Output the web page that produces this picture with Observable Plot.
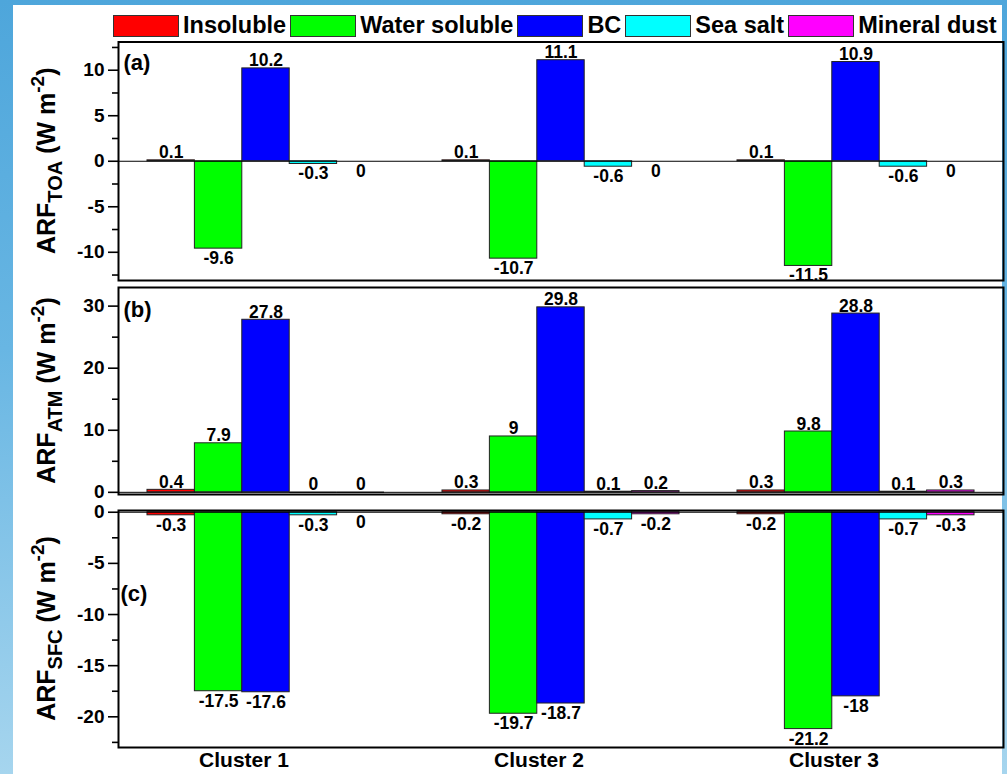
<!DOCTYPE html>
<html><head><meta charset="utf-8">
<script src="https://cdn.jsdelivr.net/npm/d3@7"></script>
<script src="https://cdn.jsdelivr.net/npm/@observablehq/plot@0.6"></script>
<style>
body{margin:0;width:1007px;height:774px;overflow:hidden;position:relative;
background:linear-gradient(180deg,#4ea6db 0%,#68b6e3 45%,#a6d5ee 100%);
font-family:"Liberation Sans",Arial,sans-serif;}
#page{position:absolute;left:13px;top:5px;width:989px;height:769px;background:#fff;}
.pl{position:absolute;left:0;width:1007px;}
#legend{position:absolute;top:12px;left:113px;display:flex;align-items:center;font-weight:bold;font-size:23.5px;white-space:nowrap;color:#000;}
.sw{width:64px;height:20px;border:1px solid #333;margin-right:4px;}
.lab{margin-right:4px;}
</style></head><body>
<div id="page"></div>
<div id="legend"></div>
<div id="pa" class="pl" style="top:30px"></div>
<div id="pb" class="pl" style="top:282px"></div>
<div id="pc" class="pl" style="top:496px"></div>
<script>
const clusters = ["Cluster 1", "Cluster 2", "Cluster 3"];
const components = ["Insoluble", "Water soluble", "BC", "Sea salt", "Mineral dust"];
const colors = ["#ff0000", "#00ff00", "#0000ff", "#00ffff", "#ff00ff"];

// values per component (rows), per cluster (columns)
const toaValues = [
  [0.1, 0.1, 0.1],
  [-9.6, -10.7, -11.5],
  [10.2, 11.1, 10.9],
  [-0.3, -0.6, -0.6],
  [0, 0, 0]
];
const atmValues = [
  [0.4, 0.3, 0.3],
  [7.9, 9, 9.8],
  [27.8, 29.8, 28.8],
  [0, 0.1, 0.1],
  [0, 0.2, 0.3]
];
const sfcValues = [
  [-0.3, -0.2, -0.2],
  [-17.5, -19.7, -21.2],
  [-17.6, -18.7, -18],
  [-0.3, -0.7, -0.7],
  [0, -0.2, -0.3]
];

const toaTicks = [-10, -5, 0, 5, 10];
const atmTicks = [0, 10, 20, 30];
const sfcTicks = [0, -5, -10, -15, -20];

const FONT = '"Liberation Sans", Arial, sans-serif';
const W = 0.1607; // bar width in cluster units

// legend
const leg = document.getElementById("legend");
components.forEach((c, i) => {
  const s = document.createElement("div");
  s.className = "sw"; s.style.background = colors[i];
  const t = document.createElement("div");
  t.className = "lab"; t.textContent = c;
  leg.appendChild(s); leg.appendChild(t);
});

function rowsOf(values) {
  const rows = [];
  clusters.forEach((cl, i) => components.forEach((co, j) => {
    rows.push({cluster: cl, component: co, ci: i, cj: j, value: values[j][i]});
  }));
  return rows;
}

function panel(id, values, o) {
  const rows = rowsOf(values);
  const isUp = d => d.value > 0 || (d.value === 0 && o.zeroUp);
  const x1 = d => d.ci + 0.5 + (d.cj - 2.5) * W;
  const xc = d => d.ci + 0.5 + (d.cj - 2) * W;
  const minor = [];
  for (let v = o.minorStart; v <= o.domain[1]; v += o.step) if (!o.major.includes(v) && v >= o.domain[0]) minor.push(v);
  const marks = [
    Plot.rect(rows, {x1, x2: d => x1(d) + W, y1: 0, y2: "value", fill: "component", stroke: "#222", strokeWidth: 1}),
    Plot.ruleY(rows.filter(d => d.value === 0 && o.zeroUp), {x1, x2: d => x1(d) + W, y: 0, stroke: "#444", strokeWidth: 1.5}),
    Plot.ruleY([0], {stroke: "#000", strokeWidth: 1}),
    Plot.axisY({ticks: o.major, tickSize: 10, tickPadding: 4, fontSize: 19, fontWeight: "bold", strokeWidth: 1.6, label: null, tickFormat: d => String(d)}),
    Plot.axisY({ticks: minor, tickSize: 6, strokeWidth: 1.6, label: null, tickFormat: () => ""}),
    Plot.text(rows.filter(isUp), {x: xc, y: "value", text: d => String(d.value), lineAnchor: "bottom", dy: -2, fontSize: 17.5, fontWeight: "bold", fill: "#000"}),
    Plot.text(rows.filter(d => !isUp(d)), {x: xc, y: "value", text: d => String(d.value), lineAnchor: "top", dy: 3, fontSize: 17.5, fontWeight: "bold", fill: "#000"}),
    Plot.frame({stroke: "#000", strokeWidth: 2}),
    Plot.text([o.tag], {frameAnchor: o.tagAnchor, dx: o.tagDx, dy: o.tagDy, text: d => d, fontSize: 22, fontWeight: "bold", fill: "#000", textAnchor: "start"})
  ];
  if (o.xaxis) {
    marks.push(Plot.axisX({ticks: clusters.map((c, i) => i + 0.5), tickFormat: d => clusters[Math.floor(d)], tickSize: 0, tickPadding: 5, fontSize: 21, fontWeight: "bold", dx: -22, label: null}));
  }
  const p = Plot.plot({
    width: 1007, height: o.height,
    marginLeft: 118, marginRight: 4, marginTop: o.mt, marginBottom: o.mb,
    x: {domain: [0, 3], axis: null},
    y: {domain: o.domain, axis: null},
    color: {domain: components, range: colors},
    style: {background: "transparent", overflow: "visible", fontFamily: FONT, color: "#000"},
    marks
  });
  // y-axis title with sub/superscripts
  const svg = d3.select(p);
  const cy = o.mt + (o.height - o.mt - o.mb) / 2;
  const t = svg.append("text")
    .attr("transform", `translate(55,${cy}) rotate(-90)`)
    .attr("text-anchor", "middle")
    .attr("font-family", FONT).attr("font-weight", "bold").attr("font-size", 25).attr("fill", "#000");
  t.append("tspan").text("ARF");
  t.append("tspan").attr("font-size", 20).attr("dy", 7).text(o.sub);
  t.append("tspan").attr("dy", -7).text(" (W m");
  t.append("tspan").attr("font-size", 19).attr("dy", -11).text("-2");
  t.append("tspan").attr("dy", 11).text(")");
  document.getElementById(id).appendChild(p);
}

panel("pa", toaValues, {height: 252, mt: 11.5, mb: 2, domain: [-13.1, 13.1], major: toaTicks, minorStart: -12.5, step: 2.5,
  zeroUp: false, sub: "TOA", tag: "(a)", tagAnchor: "top-left", tagDx: 5, tagDy: 12});
panel("pb", atmValues, {height: 214, mt: 5, mb: 2, domain: [-0.35, 33], major: atmTicks, minorStart: 5, step: 10,
  zeroUp: true, sub: "ATM", tag: "(b)", tagAnchor: "top-left", tagDx: 5, tagDy: 14});
panel("pc", sfcValues, {height: 278, mt: 14, mb: 27, domain: [-23, 0.17], major: sfcTicks, minorStart: -22.5, step: 5,
  zeroUp: false, sub: "SFC", tag: "(c)", tagAnchor: "left", tagDx: 2, tagDy: -35, xaxis: true});
</script>
</body></html>
